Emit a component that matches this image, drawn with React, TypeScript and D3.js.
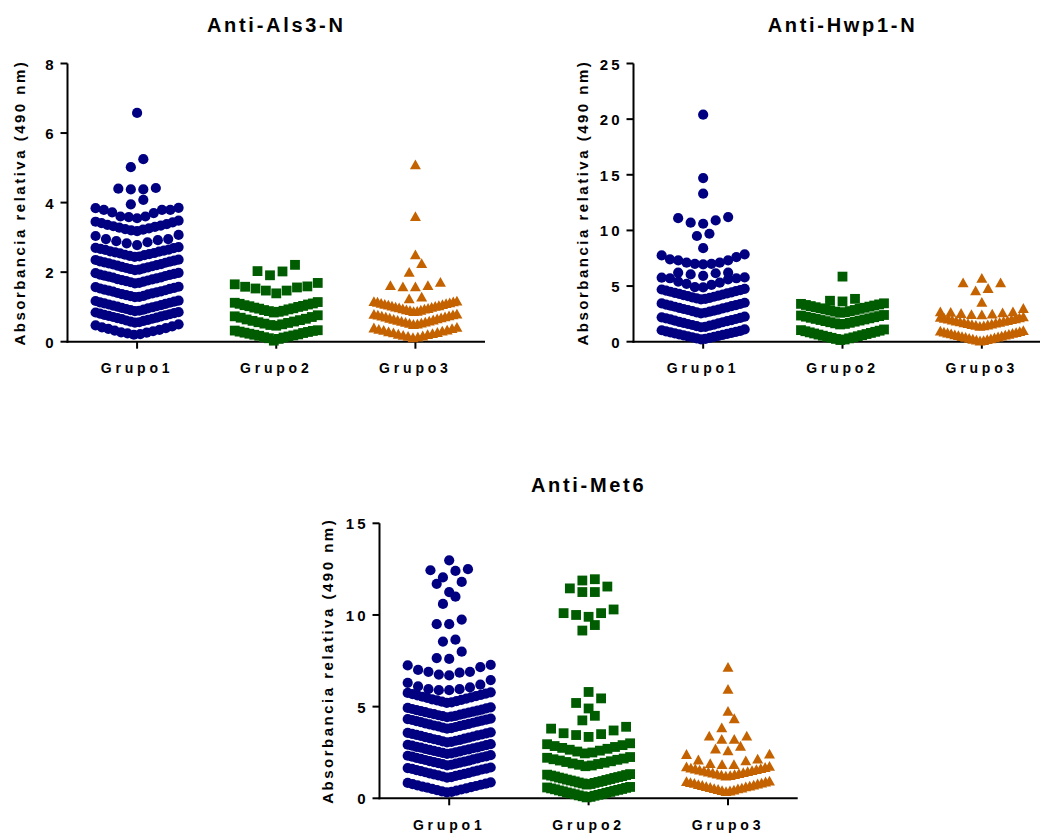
import React from 'react';
import * as d3 from 'd3';

// Categories shared by the three panels
const groups = ['Grupo1', 'Grupo2', 'Grupo3'];

// Anti-Als3-N, relative absorbance (490 nm)
const als3Grupo1 = [
  0.20, 0.22, 0.24, 0.26, 0.27, 0.30, 0.32, 0.34, 0.37, 0.39, 0.41, 0.44, 0.47, 0.50,
  0.55, 0.56, 0.58, 0.60, 0.61, 0.63, 0.65, 0.66, 0.68, 0.69, 0.71, 0.73, 0.74, 0.76, 0.77, 0.79, 0.81, 0.82, 0.84, 0.85,
  0.88, 0.89, 0.91, 0.92, 0.94, 0.96, 0.97, 0.99, 1.01, 1.02, 1.04, 1.05, 1.07, 1.09, 1.10, 1.12, 1.13, 1.15, 1.17, 1.18,
  1.28, 1.29, 1.31, 1.32, 1.34, 1.36, 1.37, 1.39, 1.40, 1.42, 1.44, 1.45, 1.47, 1.48, 1.50, 1.52, 1.53, 1.55, 1.57, 1.58,
  1.68, 1.69, 1.71, 1.73, 1.74, 1.76, 1.77, 1.79, 1.80, 1.82, 1.84, 1.85, 1.87, 1.89, 1.90, 1.92, 1.93, 1.95, 1.97, 1.98,
  2.06, 2.07, 2.09, 2.11, 2.12, 2.14, 2.15, 2.17, 2.19, 2.20, 2.22, 2.23, 2.25, 2.27, 2.28, 2.30, 2.31, 2.33, 2.35, 2.36,
  2.44, 2.45, 2.47, 2.49, 2.50, 2.52, 2.54, 2.55, 2.57, 2.59, 2.60, 2.62, 2.64, 2.65, 2.67, 2.69, 2.70, 2.72,
  2.78, 2.83, 2.86, 2.89, 2.92, 2.95, 2.95, 3.04, 3.07,
  3.18, 3.20, 3.22, 3.24, 3.26, 3.28, 3.30, 3.32, 3.34, 3.36, 3.38, 3.41, 3.43, 3.45, 3.48,
  3.55, 3.58, 3.60, 3.60, 3.70, 3.72, 3.79, 3.79, 3.79, 3.84, 3.85,
  3.95, 4.08, 4.38, 4.38, 4.40, 4.42, 5.02, 5.25, 6.58,
];
const als3Grupo2 = [
  0.03, 0.08, 0.10, 0.12, 0.13, 0.15, 0.17, 0.18, 0.20, 0.21, 0.23, 0.25, 0.26, 0.28, 0.29, 0.31, 0.32, 0.33,
  0.46, 0.48, 0.50, 0.52, 0.54, 0.56, 0.58, 0.60, 0.62, 0.64, 0.66, 0.69, 0.71, 0.73, 0.76,
  0.84, 0.86, 0.88, 0.89, 0.91, 0.93, 0.95, 0.96, 0.98, 1.00, 1.02, 1.03, 1.05, 1.07, 1.09, 1.10, 1.12, 1.14,
  1.39, 1.47, 1.47, 1.53, 1.56, 1.58, 1.59, 1.65, 1.69,
  1.91, 2.02, 2.03, 2.21,
];
const als3Grupo3 = [
  0.12, 0.14, 0.16, 0.17, 0.19, 0.21, 0.22, 0.24, 0.26, 0.27, 0.29, 0.31, 0.33, 0.34, 0.36, 0.38, 0.40, 0.42,
  0.50, 0.51, 0.53, 0.54, 0.56, 0.57, 0.59, 0.60, 0.62, 0.63, 0.65, 0.66, 0.68, 0.69, 0.71, 0.72, 0.74, 0.75, 0.77, 0.78, 0.79, 0.80,
  0.87, 0.88, 0.90, 0.91, 0.92, 0.94, 0.95, 0.96, 0.98, 0.99, 1.00, 1.02, 1.03, 1.04, 1.06, 1.07, 1.08, 1.10, 1.11, 1.12, 1.14, 1.15, 1.16, 1.17,
  1.24, 1.29, 1.58, 1.58, 1.62, 1.62, 1.71, 2.00, 2.25, 2.50, 3.60, 5.09,
];

// Anti-Hwp1-N
const hwp1Grupo1 = [
  0.20, 0.25, 0.29, 0.34, 0.38, 0.43, 0.47, 0.52, 0.56, 0.61, 0.65, 0.70, 0.74, 0.79, 0.83, 0.88, 0.92, 0.97, 1.03, 1.10,
  1.30, 1.34, 1.40, 1.44, 1.50, 1.54, 1.59, 1.65, 1.69, 1.75, 1.79, 1.85, 1.89, 1.94, 2.00, 2.04, 2.10, 2.14, 2.19, 2.25,
  2.55, 2.60, 2.64, 2.70, 2.74, 2.79, 2.85, 2.89, 2.94, 3.00, 3.04, 3.09, 3.14, 3.19, 3.24, 3.29, 3.34, 3.39, 3.44, 3.50,
  3.80, 3.84, 3.90, 3.94, 3.99, 4.04, 4.09, 4.14, 4.19, 4.24, 4.29, 4.34, 4.39, 4.44, 4.49, 4.54, 4.59, 4.64, 4.69, 4.75,
  4.88, 4.90, 5.10, 5.20, 5.30, 5.40, 5.60, 5.70, 5.70, 5.75, 5.78,
  5.92, 6.05, 6.15, 6.20, 6.20,
  6.95, 7.00, 7.00, 7.10, 7.10, 7.30, 7.30, 7.40, 7.60, 7.75, 7.85,
  8.40, 9.50, 9.70, 10.60, 10.70, 10.90, 11.10, 11.20, 13.30, 14.70, 20.40,
];
const hwp1Grupo2 = [
  0.15, 0.20, 0.25, 0.30, 0.35, 0.39, 0.44, 0.49, 0.54, 0.59, 0.64, 0.69, 0.74, 0.79, 0.84, 0.89, 0.94, 0.99, 1.04, 1.10,
  1.55, 1.60, 1.65, 1.70, 1.75, 1.80, 1.85, 1.90, 1.95, 2.00, 2.05, 2.10, 2.15, 2.20, 2.25, 2.30, 2.35, 2.40,
  2.60, 2.65, 2.70, 2.75, 2.80, 2.85, 2.90, 2.95, 3.00, 3.05, 3.10, 3.15, 3.20, 3.25, 3.30, 3.35, 3.40, 3.45,
  3.62, 3.68, 3.85, 5.85,
];
const hwp1Grupo3 = [
  0.08, 0.12, 0.16, 0.20, 0.24, 0.28, 0.32, 0.36, 0.40, 0.44, 0.48, 0.52, 0.56, 0.60, 0.64, 0.68, 0.72, 0.76, 0.80, 0.84, 0.88, 0.92, 0.97, 1.02,
  1.40, 1.44, 1.48, 1.52, 1.56, 1.60, 1.64, 1.68, 1.72, 1.76, 1.80, 1.84, 1.88, 1.92, 1.96, 2.00, 2.04, 2.08, 2.12, 2.16, 2.20, 2.25,
  2.42, 2.45, 2.50, 2.55, 2.60, 2.65, 2.70, 2.70, 3.00,
  3.55, 4.58, 4.80, 5.30, 5.30, 5.70,
];

// Anti-Met6
const met6Grupo1 = [
  0.32, 0.35, 0.38, 0.42, 0.45, 0.48, 0.51, 0.54, 0.58, 0.61, 0.64, 0.67, 0.71, 0.74, 0.77, 0.80, 0.84, 0.87,
  1.13, 1.16, 1.19, 1.22, 1.25, 1.28, 1.30, 1.33, 1.36, 1.39, 1.42, 1.45, 1.48, 1.51, 1.54, 1.57, 1.60, 1.62, 1.65, 1.68,
  1.80, 1.83, 1.86, 1.89, 1.92, 1.95, 1.97, 2.00, 2.03, 2.06, 2.09, 2.12, 2.15, 2.18, 2.21, 2.24, 2.27, 2.29, 2.32, 2.35,
  2.42, 2.45, 2.48, 2.50, 2.53, 2.56, 2.59, 2.62, 2.64, 2.67, 2.70, 2.73, 2.76, 2.78, 2.81, 2.84, 2.87, 2.90, 2.92, 2.95,
  3.05, 3.08, 3.11, 3.14, 3.17, 3.19, 3.22, 3.25, 3.28, 3.31, 3.34, 3.37, 3.40, 3.43, 3.46, 3.48, 3.51, 3.54, 3.57, 3.60,
  3.80, 3.83, 3.86, 3.89, 3.92, 3.95, 3.97, 4.00, 4.03, 4.06, 4.09, 4.12, 4.15, 4.18, 4.21, 4.24, 4.27, 4.29, 4.32, 4.35,
  4.42, 4.45, 4.48, 4.50, 4.53, 4.56, 4.59, 4.62, 4.64, 4.67, 4.70, 4.73, 4.76, 4.78, 4.81, 4.84, 4.87, 4.90, 4.93, 4.96,
  5.20, 5.23, 5.27, 5.30, 5.34, 5.37, 5.40, 5.44, 5.47, 5.51, 5.54, 5.57, 5.61, 5.64, 5.68, 5.71, 5.75, 5.78,
  5.90, 5.90, 5.95, 5.95, 6.05, 6.10, 6.20, 6.30, 6.45,
  6.70, 6.75, 6.85, 6.90, 6.90, 7.00, 7.15, 7.25, 7.28,
  7.60, 7.65, 8.00, 8.55, 8.65, 9.50, 9.50, 9.75, 10.60, 11.00,
  11.25, 11.70, 11.80, 12.05, 12.40, 12.44, 12.50, 12.98,
];
const met6Grupo2 = [
  0.05, 0.08, 0.11, 0.14, 0.16, 0.19, 0.22, 0.24, 0.27, 0.30, 0.32, 0.35, 0.38, 0.41, 0.43, 0.46, 0.49, 0.51, 0.54, 0.57, 0.59, 0.62,
  0.75, 0.78, 0.81, 0.84, 0.86, 0.89, 0.92, 0.94, 0.97, 1.00, 1.02, 1.05, 1.08, 1.11, 1.13, 1.16, 1.19, 1.21, 1.24, 1.27, 1.29, 1.32,
  1.75, 1.79, 1.83, 1.87, 1.90, 1.94, 1.98, 2.02, 2.06, 2.10, 2.13, 2.17, 2.21, 2.25,
  2.45, 2.50, 2.55, 2.60, 2.65, 2.70, 2.75, 2.80, 2.85, 2.90, 2.95, 3.00,
  3.35, 3.45, 3.50, 3.55, 3.70, 3.80, 3.90,
  4.25, 4.50, 4.90, 5.20, 5.45, 5.80,
  9.15, 9.45, 9.90, 10.00, 10.10, 10.10, 10.30,
  11.25, 11.25, 11.45, 11.55, 11.88, 11.95,
];
const met6Grupo3 = [
  0.38, 0.41, 0.43, 0.46, 0.49, 0.52, 0.54, 0.57, 0.60, 0.63, 0.65, 0.68, 0.71, 0.73, 0.76, 0.79, 0.82, 0.84, 0.87, 0.90, 0.92, 0.95,
  1.22, 1.25, 1.28, 1.30, 1.33, 1.36, 1.39, 1.41, 1.44, 1.47, 1.50, 1.52, 1.55, 1.58, 1.61, 1.63, 1.66, 1.69, 1.72, 1.75,
  1.85, 1.85, 1.90, 2.05, 2.10, 2.15, 2.40, 2.42,
  2.60, 2.70, 2.85, 3.22, 3.22, 3.40, 3.40, 3.85, 4.35, 4.75, 5.95, 7.15,
];

// Y-axis tick labels
const als3Ticks = [0, 2, 4, 6, 8];
const hwp1Ticks = [0, 5, 10, 15, 20, 25];
const met6Ticks = [0, 5, 10, 15];

const yAxisTitle = 'Absorbancia relativa (490 nm)';

const COLORS = ['#000080', '#005c00', '#c46200'];
const FONT = "'Liberation Sans', Arial, Helvetica, sans-serif";

type PanelSpec = {
  title: string;
  series: number[][];
  ticks: number[];
  left: number;
  right: number;
  top: number;
  bottom: number;
  yTitleX: number;
};

const panels: PanelSpec[] = [
  { title: 'Anti-Als3-N', series: [als3Grupo1, als3Grupo2, als3Grupo3], ticks: als3Ticks,
    left: 67.5, right: 485, top: 63.5, bottom: 341.7, yTitleX: 25 },
  { title: 'Anti-Hwp1-N', series: [hwp1Grupo1, hwp1Grupo2, hwp1Grupo3], ticks: hwp1Ticks,
    left: 633.5, right: 1051.5, top: 63.5, bottom: 341.7, yTitleX: 588 },
  { title: 'Anti-Met6', series: [met6Grupo1, met6Grupo2, met6Grupo3], ticks: met6Ticks,
    left: 379.5, right: 797.7, top: 523.3, bottom: 798.3, yTitleX: 333 },
];

type Pt = { x: number; y: number };

// Column scatter layout: values are grouped into rows of similar height
// and spread sideways from the column centre, smallest value in the middle.
function scatterColumn(values: number[], y: d3.ScaleLinear<number, number>, cx: number): Pt[] {
  const binPx = 11;
  const maxHalf = 41.5;
  const maxStep = 12.5;
  const sorted = [...values].sort((a, b) => a - b);
  const rows: number[][] = [];
  let cur: number[] = [];
  let startPx = 0;
  for (const v of sorted) {
    const py = y(v);
    if (cur.length && startPx - py < binPx) {
      cur.push(v);
    } else {
      if (cur.length) rows.push(cur);
      cur = [v];
      startPx = py;
    }
  }
  if (cur.length) rows.push(cur);

  const pts: Pt[] = [];
  for (const row of rows) {
    const n = row.length;
    const step = n > 1 ? Math.min(maxStep, (2 * maxHalf) / (n - 1)) : 0;
    row.forEach((v, i) => {
      let off: number;
      if (n % 2 === 1) {
        const k = Math.ceil(i / 2);
        off = i === 0 ? 0 : (i % 2 === 1 ? -k : k) * step;
      } else {
        const k = Math.floor(i / 2) + 0.5;
        off = (i % 2 === 0 ? -k : k) * step;
      }
      pts.push({ x: cx + off, y: y(v) });
    });
  }
  return pts;
}

function Marker({ kind, x, y, color }: { kind: number; x: number; y: number; color: string }) {
  if (kind === 0) return <circle cx={x} cy={y} r={5.1} fill={color} />;
  if (kind === 1) return <rect x={x - 4.9} y={y - 4.9} width={9.8} height={9.8} fill={color} />;
  return <path d={`M${x},${y - 5.2}L${x + 5.5},${y + 4.6}L${x - 5.5},${y + 4.6}Z`} fill={color} />;
}

function Panel({ p }: { p: PanelSpec }) {
  const yMax = p.ticks[p.ticks.length - 1];
  const y = d3.scaleLinear().domain([0, yMax]).range([p.bottom, p.top]);
  const x = d3.scalePoint<string>().domain(groups).range([p.left, p.right]).padding(0.5);
  const midX = (p.left + p.right) / 2;
  const midY = (p.top + p.bottom) / 2;
  const tickLS = 3;

  return (
    <g>
      <text x={midX} y={p.top - 31.8} textAnchor="middle" fontSize={20} letterSpacing={2.7}>
        {p.title}
      </text>
      <text
        transform={`translate(${p.yTitleX},${midY}) rotate(-90)`}
        textAnchor="middle"
        fontSize={15}
        letterSpacing={2.5}
      >
        {yAxisTitle}
      </text>

      {/* axes */}
      <line x1={p.left} x2={p.left} y1={p.top} y2={p.bottom + 1} stroke="#000" strokeWidth={2} />
      <line x1={p.left - 1} x2={p.right} y1={p.bottom} y2={p.bottom} stroke="#000" strokeWidth={2} />
      {p.ticks.map((t) => (
        <g key={t}>
          <line x1={p.left - 7} x2={p.left} y1={y(t)} y2={y(t)} stroke="#000" strokeWidth={2} />
          <text x={p.left - 14 + tickLS} y={y(t) + 6} textAnchor="end" fontSize={15} letterSpacing={tickLS}>
            {t}
          </text>
        </g>
      ))}
      {groups.map((g) => (
        <g key={g}>
          <line x1={x(g)!} x2={x(g)!} y1={p.bottom} y2={p.bottom + 7} stroke="#000" strokeWidth={2} />
          <text x={x(g)!} y={p.bottom + 31.5} textAnchor="middle" fontSize={14} letterSpacing={3.8}>
            {g}
          </text>
        </g>
      ))}

      {/* data points */}
      {p.series.map((vals, gi) => {
        const pts = scatterColumn(vals, y, x(groups[gi])!);
        return (
          <g key={gi}>
            {pts.map((pt, i) => (
              <Marker key={i} kind={gi} x={pt.x} y={pt.y} color={COLORS[gi]} />
            ))}
          </g>
        );
      })}
    </g>
  );
}

export default function App() {
  return (
    <svg
      width={1040}
      height={833}
      viewBox="0 0 1040 833"
      style={{ position: 'absolute', left: 0, top: 0, background: '#fff' }}
      fontFamily={FONT}
      fontWeight="bold"
    >
      {panels.map((p) => (
        <Panel key={p.title} p={p} />
      ))}
    </svg>
  );
}
